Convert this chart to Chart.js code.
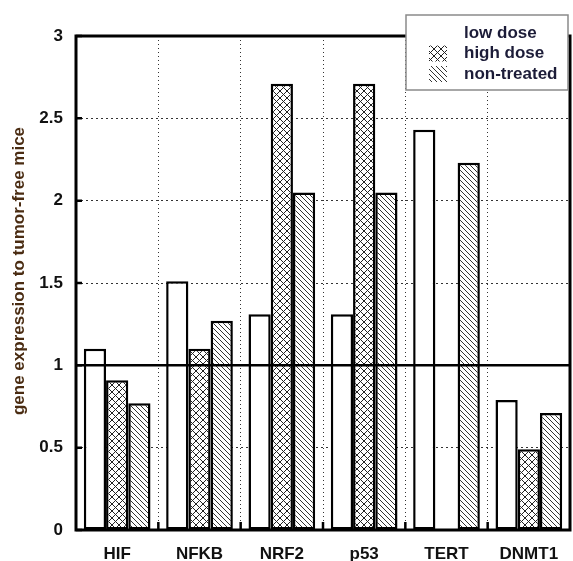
<!DOCTYPE html>
<html lang="en">
<head>
    <meta charset="UTF-8">
    <title>Gene expression</title>
    <script src="https://cdn.jsdelivr.net/npm/chart.js"></script>
    <style>
        html, body { margin: 0; padding: 0; background: #fff; }
        #wrap { width: 573px; height: 561px; position: relative; }
    </style>
</head>
<body>
    <div id="wrap"><canvas id="chart"></canvas></div>
    <script>
        // data
        const genes = ['HIF', 'NFKB', 'NRF2', 'p53', 'TERT', 'DNMT1'];
        const lowDose = [1.10, 1.51, 1.31, 1.31, 2.43, 0.79];
        const highDose = [0.91, 1.10, 2.71, 2.71, null, 0.49];
        const nonTreated = [0.77, 1.27, 2.05, 2.05, 2.23, 0.71];
        const yTicks = [0, 0.5, 1, 1.5, 2, 2.5, 3];
        const yTickLabels = ['0', '0.5', '1', '1.5', '2', '2.5', '3'];
        const seriesNames = ['low dose', 'high dose', 'non-treated'];
        const yTitle = 'gene expression to tumor-free mice';
        const referenceLevel = 1;

        const FONT = '"Liberation Sans", Arial, sans-serif';
        const canvas = document.getElementById('chart');
        const mainCtx = canvas.getContext('2d');

        // hatch fills for the bars
        function makePattern(kind) {
            const s = kind === 'cross' ? 7 : 5;
            const c = document.createElement('canvas');
            c.width = s;
            c.height = s;
            const g = c.getContext('2d');
            g.fillStyle = '#fff';
            g.fillRect(0, 0, s, s);
            g.strokeStyle = kind === 'cross' ? '#222' : '#333';
            g.lineWidth = 1;
            g.beginPath();
            g.moveTo(-1, -1); g.lineTo(s + 1, s + 1);
            g.moveTo(s - 1, -1); g.lineTo(s + 1, 1);
            g.moveTo(-1, s - 1); g.lineTo(1, s + 1);
            if (kind === 'cross') {
                g.moveTo(s + 1, -1); g.lineTo(-1, s + 1);
                g.moveTo(1, -1); g.lineTo(-1, 1);
                g.moveTo(s + 1, s - 1); g.lineTo(s - 1, s + 1);
            }
            g.stroke();
            return mainCtx.createPattern(c, 'repeat');
        }

        const crossFill = makePattern('cross');
        const diagFill = makePattern('diag');

        // frame, reference line, inner ticks and the y title
        const framePlugin = {
            id: 'framePlugin',
            afterDatasetsDraw(chart) {
                const { ctx, chartArea: a, scales } = chart;
                const y = scales.y;
                const x = scales.x;
                ctx.save();
                ctx.strokeStyle = '#000';
                ctx.setLineDash([]);

                // line at level 1
                ctx.lineWidth = 2.5;
                const yr = y.getPixelForValue(referenceLevel);
                ctx.beginPath();
                ctx.moveTo(a.left, yr);
                ctx.lineTo(a.right, yr);
                ctx.stroke();

                // inward ticks
                ctx.beginPath();
                yTicks.forEach(v => {
                    const py = y.getPixelForValue(v);
                    ctx.moveTo(a.left, py);
                    ctx.lineTo(a.left + 6, py);
                });
                for (let i = 1; i < genes.length; i++) {
                    const px = (x.getPixelForValue(i - 1) + x.getPixelForValue(i)) / 2;
                    ctx.moveTo(px, a.bottom);
                    ctx.lineTo(px, a.bottom - 8);
                }
                ctx.stroke();

                // box
                ctx.lineWidth = 3;
                ctx.strokeRect(a.left, a.top, a.right - a.left, a.bottom - a.top);

                // y title, sits a bit above the middle in the original
                ctx.translate(19, 271);
                ctx.rotate(-Math.PI / 2);
                ctx.font = 'bold 17px ' + FONT;
                ctx.fillStyle = '#4a2c12';
                ctx.textAlign = 'center';
                ctx.textBaseline = 'middle';
                ctx.fillText(yTitle, 0, 0);
                ctx.restore();
            }
        };

        // boxed legend over the top right corner
        const boxLegend = {
            id: 'boxLegend',
            afterDraw(chart) {
                const ctx = chart.ctx;
                const bx = 406, by = 15, bw = 162, bh = 75;
                ctx.save();
                ctx.fillStyle = '#fff';
                ctx.fillRect(bx, by, bw, bh);
                ctx.strokeStyle = '#8a8a8a';
                ctx.lineWidth = 1.5;
                ctx.strokeRect(bx, by, bw, bh);

                ctx.font = 'bold 17px ' + FONT;
                ctx.textBaseline = 'middle';
                ctx.textAlign = 'left';
                chart.data.datasets.forEach((ds, i) => {
                    const cy = 33 + i * 20.5;
                    ctx.fillStyle = ds.backgroundColor;
                    ctx.fillRect(429, cy - 8, 18, 16);
                    ctx.fillStyle = '#1c1c38';
                    ctx.fillText(ds.label, 464, cy);
                });
                ctx.restore();
            }
        };

        const barStyle = {
            borderColor: '#000',
            borderWidth: 2.5,
            borderSkipped: false,
            categoryPercentage: 0.81,
            barPercentage: 1.0
        };

        new Chart(canvas, {
            type: 'bar',
            data: {
                labels: genes,
                datasets: [
                    Object.assign({ label: seriesNames[0], data: lowDose, backgroundColor: '#fff' }, barStyle),
                    Object.assign({ label: seriesNames[1], data: highDose, backgroundColor: crossFill }, barStyle),
                    Object.assign({ label: seriesNames[2], data: nonTreated, backgroundColor: diagFill }, barStyle)
                ]
            },
            options: {
                responsive: true,
                maintainAspectRatio: false,
                animation: false,
                devicePixelRatio: 1,
                layout: { padding: { left: 0, top: 36, right: 3, bottom: 0 } },
                plugins: {
                    legend: { display: false },
                    tooltip: { enabled: false }
                },
                scales: {
                    x: {
                        afterFit: s => { s.height = 31; },
                        grid: {
                            offset: true,
                            drawTicks: false,
                            color: '#333',
                            lineWidth: 1
                        },
                        border: { display: false, dash: [1, 3] },
                        ticks: {
                            padding: 14,
                            color: '#111',
                            font: { family: FONT, size: 17, weight: 'bold' }
                        }
                    },
                    y: {
                        min: 0,
                        max: 3,
                        afterFit: s => { s.width = 76; },
                        afterBuildTicks: s => { s.ticks = yTicks.map(v => ({ value: v })); },
                        grid: {
                            drawTicks: false,
                            color: ctx => (ctx.tick && (ctx.tick.value === 0 || ctx.tick.value === 1 || ctx.tick.value === 3)) ? 'rgba(0,0,0,0)' : '#333',
                            lineWidth: 1
                        },
                        border: { display: false, dash: [2, 3] },
                        ticks: {
                            padding: 13,
                            color: '#111',
                            font: { family: FONT, size: 17, weight: 'bold' },
                            callback: (v, i) => yTickLabels[i]
                        }
                    }
                }
            },
            plugins: [framePlugin, boxLegend]
        });
    </script>
</body>
</html>
